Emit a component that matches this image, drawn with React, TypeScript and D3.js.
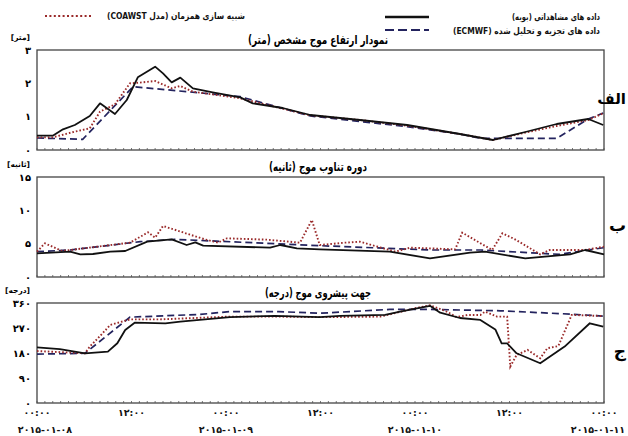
import React, { useEffect } from 'react';
import * as d3 from 'd3';

// time axis in hours from 2015-01-08 00:00
const xTickHours = [0, 12, 24, 36, 48, 60, 72];
const xTickLabels = ['۰۰:۰۰', '۱۲:۰۰', '۰۰:۰۰', '۱۲:۰۰', '۰۰:۰۰', '۱۲:۰۰', '۰۰:۰۰'];
const dateHours = [0, 24, 48, 72];
const dateLabels = ['۲۰۱۵-۰۱-۰۸', '۲۰۱۵-۰۱-۰۹', '۲۰۱۵-۰۱-۱۰', '۲۰۱۵-۰۱-۱۱'];

// panel A - significant wave height (m)
const hsObsH = [0, 2.0, 3.3, 4.8, 6.7, 8.0, 9.9, 11.4, 12.8, 15.0, 16.0, 17.1, 18.2, 19.8, 22.3, 25.8, 27.4, 31.2, 34.7, 41.0, 47.0, 53.7, 57.9, 62.0, 66.0, 70.0, 71.9];
const hsObsV = [0.43, 0.43, 0.62, 0.75, 1.02, 1.40, 1.08, 1.50, 2.18, 2.50, 2.30, 2.03, 2.17, 1.85, 1.73, 1.58, 1.40, 1.26, 1.05, 0.90, 0.75, 0.48, 0.30, 0.54, 0.78, 0.93, 0.75];
const hsModH = [0, 2, 4.8, 6.7, 8.0, 9.9, 11.8, 13.0, 15.0, 17.1, 18.2, 19.8, 25.8, 31.2, 34.7, 41, 47, 53.7, 57.9, 62, 66, 70, 71.9];
const hsModV = [0.38, 0.38, 0.55, 0.65, 1.15, 1.37, 2.0, 2.02, 2.07, 1.85, 1.92, 1.75, 1.55, 1.24, 1.04, 0.9, 0.73, 0.48, 0.30, 0.52, 0.72, 0.90, 1.10];
const hsEraH = [0, 5.8, 12.2, 25.8, 34.7, 47, 53.7, 56.3, 66, 70, 71.9];
const hsEraV = [0.36, 0.32, 1.9, 1.6, 1.02, 0.70, 0.48, 0.35, 0.35, 0.93, 1.11];

// panel B - wave period (s)
const tpObsH = [0, 4.2, 5.5, 7.1, 9.3, 11.2, 14.0, 17.1, 19.0, 20.1, 21.1, 29.6, 30.9, 33.0, 35.9, 44.8, 49.9, 55.0, 56.9, 62.0, 67.7, 69.6, 72];
const tpObsV = [3.55, 3.8, 3.4, 3.45, 3.8, 3.9, 5.3, 5.65, 4.8, 5.2, 4.7, 4.4, 4.8, 4.3, 4.15, 3.8, 2.8, 3.65, 3.8, 2.8, 3.4, 4.05, 3.4];
const tpModH = [0, 1.0, 3.2, 11.8, 14.1, 15.0, 16.0, 21.3, 23.0, 24.1, 29.2, 33.4, 34.9, 35.9, 39.1, 41.0, 45.5, 47.4, 53.1, 54.0, 57.8, 59.1, 60.7, 63.9, 65.1, 69.6, 72];
const tpModV = [3.8, 5.05, 3.9, 5.15, 6.7, 5.9, 7.65, 5.65, 5.15, 5.8, 5.6, 5.15, 8.55, 4.8, 5.15, 5.3, 3.8, 4.4, 4.15, 6.65, 4.05, 6.55, 5.65, 3.4, 4.05, 4.05, 4.55];
const tpEraH = [0, 4.2, 13.1, 17.5, 35.9, 49.9, 56.3, 63.9, 66.4, 72];
const tpEraV = [3.8, 4.05, 5.3, 5.65, 4.7, 4.05, 4.05, 3.55, 3.4, 4.4];

// panel C - wave direction (deg)
const dirObsH = [0, 2.9, 6.1, 9.0, 10.2, 11.2, 12.4, 16.3, 18.2, 24.5, 30.2, 35.9, 38.5, 44.2, 46.1, 49.9, 51.2, 53.7, 56.3, 58.2, 59.0, 59.7, 60.9, 63.9, 67.0, 70.2, 71.9];
const dirObsV = [200, 194, 179, 185, 215, 263, 289, 287, 293, 309, 314, 309, 314, 317, 329, 350, 325, 306, 299, 265, 215, 215, 179, 143, 203, 287, 275];
const dirModH = [0, 6.1, 6.7, 8.0, 9.3, 11.8, 15.6, 24.5, 30.7, 35.9, 43.6, 48.0, 49.9, 51.8, 53.3, 54.7, 56.3, 56.9, 58.4, 59.7, 60.1, 60.9, 62.3, 63.9, 64.8, 66.2, 67.9, 71.9];
const dirModV = [187, 179, 203, 241, 281, 301, 301, 311, 311, 309, 311, 341, 352, 332, 309, 317, 317, 329, 311, 311, 131, 173, 191, 161, 197, 205, 317, 313];
const dirEraH = [0, 6.1, 11.8, 20.7, 24.5, 30.7, 35.9, 44.8, 49.9, 58.8, 67.7, 71.9];
const dirEraV = [176, 179, 309, 319, 329, 329, 323, 337, 337, 332, 320, 313];

const fa = (n: number) => String(n).replace(/\d/g, d => '۰۱۲۳۴۵۶۷۸۹'[+d]);

const FONT = 'DejaVu Sans';
const OBS = '#111111';
const ERA = '#23235e';
const MOD = '#9a2a2a';

const zip = (h: number[], v: number[]) => h.map((t, i) => [t, v[i]] as [number, number]);

const panels = [
  {
    top: 50, bottom: 150, domain: [0, 3], ticks: [0, 1, 2, 3],
    unit: '[متر]', title: 'نمودار ارتفاع موج مشخص (متر)', titleW: 140, letter: 'الف',
    obs: zip(hsObsH, hsObsV), mod: zip(hsModH, hsModV), era: zip(hsEraH, hsEraV),
  },
  {
    top: 177, bottom: 277, domain: [0, 15], ticks: [0, 5, 10, 15],
    unit: '[ثانیه]', title: 'دوره تناوب موج (ثانیه)', titleW: 98, letter: 'ب',
    obs: zip(tpObsH, tpObsV), mod: zip(tpModH, tpModV), era: zip(tpEraH, tpEraV),
  },
  {
    top: 303, bottom: 403, domain: [0, 360], ticks: [0, 90, 180, 270, 360],
    unit: '[درجه]', title: 'جهت پیشروی موج (درجه)', titleW: 106, letter: 'ج',
    obs: zip(dirObsH, dirObsV), mod: zip(dirModH, dirModV), era: zip(dirEraH, dirEraV),
  },
];

export default function App() {
  useEffect(() => {
    document.body.style.margin = '0';
  }, []);

  const W = 628, H = 436;
  const x = d3.scaleLinear().domain([0, 72]).range([37, 604]);
  const minor = d3.range(0, 73, 1);
  const rtl = { direction: 'rtl' } as React.CSSProperties;

  return (
    <svg width={W} height={H} style={{ display: 'block', background: '#fff' }} fontFamily={FONT}>
      {/* legend */}
      <g fontWeight="bold" fontSize={9} fill="#111">
        <line x1={45} x2={92} y1={16} y2={16} stroke={MOD} strokeWidth={2.2} strokeDasharray="2,2.4" />
        <text x={245} y={19} textAnchor="start" style={rtl} textLength={138} lengthAdjust="spacingAndGlyphs">شبیه سازی همزمان (مدل COAWST)</text>
        <line x1={385} x2={429} y1={17} y2={17} stroke={OBS} strokeWidth={2.4} />
        <line x1={385} x2={429} y1={30} y2={30} stroke={ERA} strokeWidth={2.2} strokeDasharray="9,4" />
        <text x={600} y={20} textAnchor="start" style={rtl} textLength={88} lengthAdjust="spacingAndGlyphs">داده های مشاهداتی (بویه)</text>
        <text x={600} y={34} textAnchor="start" style={rtl} textLength={147} lengthAdjust="spacingAndGlyphs">داده های تجزیه و تحلیل شده (ECMWF)</text>
      </g>

      {panels.map((p, i) => {
        const y = d3.scaleLinear().domain(p.domain).range([p.bottom, p.top]);
        const line = d3.line<[number, number]>().x(d => x(d[0])).y(d => y(d[1]));
        return (
          <g key={i}>
            <text x={318} y={p.top - 6} textAnchor="middle" fontSize={12} fontWeight="bold" style={rtl}
              textLength={p.titleW} lengthAdjust="spacingAndGlyphs">{p.title}</text>
            <text x={30} y={p.top - 10} textAnchor="start" fontSize={7.5} fontWeight="bold" style={rtl}>{p.unit}</text>
            {p.ticks.map(t => (
              <text key={t} x={31} y={y(t)} dy="0.35em" textAnchor="end" fontSize={10} fontWeight="bold">{fa(t)}</text>
            ))}
            <rect x={x(0)} y={p.top} width={x(72) - x(0)} height={p.bottom - p.top} fill="none" stroke="#444" strokeWidth={1.3} />
            {minor.map(h => (
              <line key={h} x1={x(h)} x2={x(h)} y1={p.bottom} y2={p.bottom - 2} stroke="#555" strokeWidth={0.8} />
            ))}
            <path d={line(p.era) ?? ''} fill="none" stroke={ERA} strokeWidth={1.7} strokeDasharray="7,4" />
            <path d={line(p.mod) ?? ''} fill="none" stroke={MOD} strokeWidth={1.9} strokeDasharray="1.6,2" />
            <path d={line(p.obs) ?? ''} fill="none" stroke={OBS} strokeWidth={1.8} strokeLinejoin="round" />
            <text x={626} y={(p.top + p.bottom) / 2 + 4} textAnchor="start" fontSize={i === 0 ? 15 : 17} fontWeight="bold" style={rtl}>{p.letter}</text>
          </g>
        );
      })}

      {/* time axis */}
      <g fontWeight="bold" fontSize={9.5} fill="#111">
        {xTickHours.map((h, i) => (
          <text key={i} x={x(h)} y={416} textAnchor="middle">{xTickLabels[i]}</text>
        ))}
        {dateHours.map((h, i) => (
          <text key={i} x={x(h) + (i === 0 ? 8 : i === 3 ? -6 : 0)} y={433} textAnchor="middle">{dateLabels[i]}</text>
        ))}
      </g>
    </svg>
  );
}
